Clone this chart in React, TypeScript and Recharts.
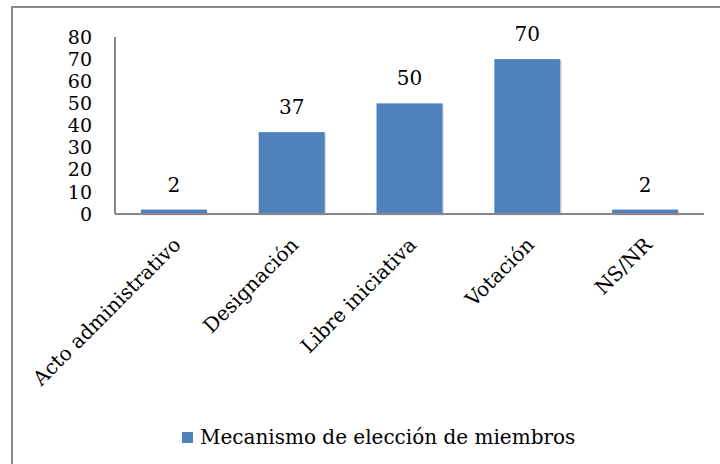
import React from "react";
import { BarChart, Bar, XAxis, YAxis, Legend, LabelList } from "recharts";

const categories = ["Acto administrativo", "Designación", "Libre iniciativa", "Votación", "NS/NR"];
const values = [2, 37, 50, 70, 2];
const yTicks = [0, 10, 20, 30, 40, 50, 60, 70, 80];
const seriesName = "Mecanismo de elección de miembros";

const data = categories.map((c, i) => ({ name: c, value: values[i] }));

const FONT = "DejaVu Serif";
const BLUE = "#4F81BD";
const AXIS = "#878787";

const BarShape = (props: any) => {
  const { x, y, width, height } = props;
  if (height <= 0) return null;
  return (
    <g>
      <rect x={x + 1.5} y={y + 1.5} width={width} height={height} fill="#000" opacity={0.12} />
      <rect x={x} y={y} width={width} height={height} fill={BLUE} />
    </g>
  );
};

const XTick = (props: any) => {
  const { x, y, payload } = props;
  const ax = x + 8;
  const ay = y + 32;
  return (
    <text
      x={ax}
      y={ay}
      textAnchor="end"
      transform={`rotate(-45, ${ax}, ${ay})`}
      style={{ fontFamily: FONT, fontSize: 20 }}
      fill="#000"
    >
      {payload.value}
    </text>
  );
};

const LegendContent = () => (
  <div
    style={{
      display: "flex",
      alignItems: "center",
      height: 50,
      paddingLeft: 182,
      fontFamily: FONT,
      fontSize: 20,
      color: "#000",
    }}
  >
    <span style={{ display: "inline-block", width: 11, height: 11, background: BLUE, marginRight: 7 }} />
    <span>{seriesName}</span>
  </div>
);

export default function App() {
  return (
    <div style={{ position: "absolute", left: 0, top: 0, width: 720, height: 464, overflow: "hidden", background: "#fff" }}>
      <div
        style={{
          position: "absolute",
          left: 11,
          top: 6,
          width: 760,
          height: 500,
          borderLeft: "2px solid #8a8a8a",
          borderTop: "2px solid #8a8a8a",
        }}
      />
      <div style={{ position: "absolute", left: 0, top: 0 }}>
        <BarChart width={720} height={464} data={data} margin={{ top: 37, right: 16, left: 0, bottom: 2 }} barCategoryGap="22%">
          <XAxis
            dataKey="name"
            interval={0}
            height={198}
            tickLine={false}
            tickSize={0}
            tickMargin={0}
            axisLine={{ stroke: AXIS, strokeWidth: 2 }}
            tick={<XTick />}
          />
          <YAxis
            width={115}
            domain={[0, 80]}
            ticks={yTicks}
            interval={0}
            tickLine={false}
            tickSize={8}
            tickMargin={15}
            axisLine={{ stroke: AXIS, strokeWidth: 2 }}
            tick={{ fontFamily: FONT, fontSize: 19, fill: "#000" }}
          />
          <Legend verticalAlign="bottom" height={50} content={<LegendContent />} />
          <Bar dataKey="value" name={seriesName} fill={BLUE} shape={<BarShape />} isAnimationActive={false}>
            <LabelList dataKey="value" position="top" offset={18} style={{ fontFamily: FONT, fontSize: 20, fill: "#000" }} />
          </Bar>
        </BarChart>
      </div>
    </div>
  );
}
